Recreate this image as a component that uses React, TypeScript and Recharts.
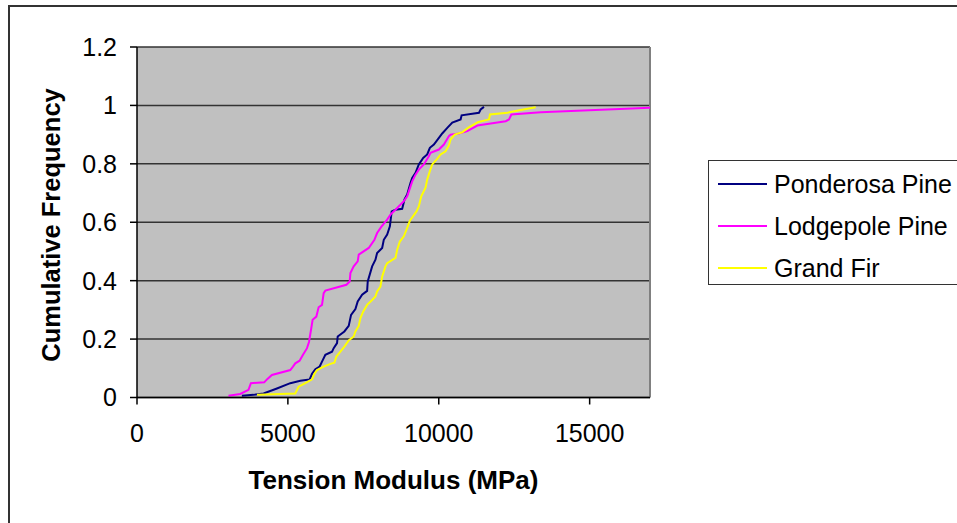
import { LineChart, Line, XAxis, YAxis, CartesianGrid, ReferenceLine, Label } from "recharts";

type Pt = [number, number];

// [tension modulus (MPa), cumulative frequency]
const ponderosa: Pt[] = [
  [3475, 0.006], [3862, 0.009], [4194, 0.014], [4637, 0.031], [5080, 0.049], [5412, 0.057],
  [5722, 0.062], [5800, 0.081], [5910, 0.097], [6053, 0.106], [6131, 0.123], [6242, 0.146],
  [6463, 0.157], [6518, 0.169], [6629, 0.186], [6651, 0.209], [6872, 0.226], [7016, 0.245],
  [7094, 0.283], [7238, 0.303], [7314, 0.329], [7460, 0.352], [7626, 0.365], [7646, 0.397],
  [7792, 0.449], [7902, 0.472], [7957, 0.495], [8124, 0.512], [8178, 0.54], [8290, 0.558],
  [8380, 0.586], [8440, 0.637], [8566, 0.643], [8788, 0.646], [8864, 0.678], [8953, 0.695],
  [9064, 0.735], [9120, 0.752], [9230, 0.769], [9339, 0.798], [9484, 0.82], [9617, 0.832],
  [9705, 0.855], [9838, 0.866], [10004, 0.889], [10115, 0.904], [10282, 0.923], [10448, 0.941],
  [10724, 0.952], [10757, 0.966], [11333, 0.975], [11388, 0.986], [11498, 0.995],
];

const lodgepole: Pt[] = [
  [3031, 0.006], [3420, 0.012], [3695, 0.026], [3774, 0.049], [4216, 0.052], [4305, 0.062],
  [4471, 0.077], [5080, 0.094], [5169, 0.106], [5246, 0.117], [5388, 0.126], [5501, 0.146],
  [5634, 0.169], [5700, 0.19], [5767, 0.232], [5820, 0.266], [5943, 0.277], [6019, 0.309],
  [6131, 0.317], [6186, 0.357], [6242, 0.366], [6939, 0.386], [7048, 0.397], [7072, 0.426],
  [7181, 0.449], [7314, 0.466], [7348, 0.489], [7680, 0.512], [7868, 0.54], [7957, 0.563],
  [8100, 0.585], [8290, 0.609], [8400, 0.626], [8566, 0.643], [8842, 0.672], [8953, 0.689],
  [9064, 0.723], [9120, 0.74], [9230, 0.763], [9339, 0.78], [9505, 0.798], [9671, 0.826],
  [9728, 0.838], [10004, 0.849], [10170, 0.866], [10335, 0.895], [10392, 0.9], [10667, 0.904],
  [10946, 0.912], [11278, 0.931], [11720, 0.938], [12218, 0.946], [12328, 0.952], [12406, 0.969],
  [13380, 0.977], [17000, 0.992],
];

const grandFir: Pt[] = [
  [3975, 0.009], [5246, 0.014], [5356, 0.037], [5578, 0.049], [5800, 0.062], [5877, 0.081],
  [5966, 0.094], [6186, 0.106], [6410, 0.115], [6540, 0.119], [6607, 0.14], [6740, 0.157],
  [6872, 0.174], [7016, 0.195], [7181, 0.209], [7238, 0.226], [7348, 0.245], [7404, 0.272],
  [7493, 0.294], [7626, 0.317], [7792, 0.334], [7902, 0.346], [7957, 0.363], [8068, 0.38],
  [8124, 0.414], [8234, 0.449], [8290, 0.46], [8566, 0.478], [8622, 0.506], [8710, 0.534],
  [8842, 0.552], [8931, 0.575], [9042, 0.605], [9263, 0.637], [9339, 0.654], [9419, 0.689],
  [9562, 0.718], [9617, 0.746], [9705, 0.775], [9783, 0.798], [9949, 0.817], [10060, 0.832],
  [10226, 0.843], [10335, 0.863], [10392, 0.883], [10524, 0.9], [10780, 0.908], [10967, 0.923],
  [11298, 0.943], [11663, 0.952], [11697, 0.969], [12275, 0.975], [12716, 0.984], [13214, 0.994],
];

const xTicks = [0, 5000, 10000, 15000];
const yTicks = [0, 0.2, 0.4, 0.6, 0.8, 1, 1.2];

const series = [
  { name: "Ponderosa Pine", color: "#000080", points: ponderosa },
  { name: "Lodgepole Pine", color: "#FF00FF", points: lodgepole },
  { name: "Grand Fir", color: "#FFFF00", points: grandFir },
];

const font = "Arial, 'Liberation Sans', sans-serif";
const tickStyle = { fontSize: 25, fill: "#000", fontFamily: font };

const toRows = (pts: Pt[]) => pts.map(([mpa, freq]) => ({ mpa, freq }));

function Legend() {
  return (
    <div
      style={{
        position: "absolute",
        left: 708,
        top: 160,
        width: 300,
        height: 125,
        border: "1.5px solid #333",
        boxSizing: "border-box",
        background: "#fff",
      }}
    >
      {series.map((s, i) => (
        <div
          key={s.name}
          style={{
            position: "absolute",
            left: 9,
            top: 23 + i * 42 - 15,
            height: 30,
            display: "flex",
            alignItems: "center",
            whiteSpace: "nowrap",
          }}
        >
          <div style={{ width: 49, height: 2, background: s.color, marginRight: 7 }} />
          <span style={{ fontSize: 25, fontFamily: font, color: "#000" }}>{s.name}</span>
        </div>
      ))}
    </div>
  );
}

export default function App() {
  return (
    <div
      style={{
        position: "absolute",
        left: 0,
        top: 0,
        width: 957,
        height: 523,
        overflow: "hidden",
        background: "#fff",
      }}
    >
      {/* chart area frame, right and bottom edges fall outside */}
      <div
        style={{
          position: "absolute",
          left: 8,
          top: 5,
          width: 1100,
          height: 700,
          border: "2px solid #333",
          boxSizing: "border-box",
        }}
      />
      <div style={{ position: "absolute", left: 0, top: 0 }}>
        <LineChart width={957} height={523} margin={{ top: 47, right: 307, bottom: 65.5, left: 67 }}>
          <CartesianGrid vertical={false} fill="#C0C0C0" stroke="#333" strokeWidth={1.5} fillOpacity={1} />
          <XAxis
            dataKey="mpa"
            type="number"
            domain={[0, 17000]}
            ticks={xTicks}
            allowDataOverflow
            height={60}
            tickSize={7}
            tickMargin={20}
            tick={tickStyle}
            axisLine={{ stroke: "#000", strokeWidth: 1.5 }}
            tickLine={{ stroke: "#000", strokeWidth: 1.5 }}
          >
            <Label
              value="Tension Modulus (MPa)"
              content={() => (
                <text x={393.5} y={489} textAnchor="middle" fontFamily={font} fontWeight="bold" fontSize={26} fill="#000">
                  Tension Modulus (MPa)
                </text>
              )}
            />
          </XAxis>
          <YAxis
            type="number"
            domain={[0, 1.2]}
            ticks={yTicks}
            width={70}
            tickSize={7}
            tickMargin={13}
            tick={tickStyle}
            axisLine={{ stroke: "#000", strokeWidth: 1.5 }}
            tickLine={{ stroke: "#000", strokeWidth: 1.5 }}
          >
            <Label
              value="Cumulative Frequency"
              content={() => (
                <text
                  x={60}
                  y={225}
                  transform="rotate(-90 60 225)"
                  textAnchor="middle"
                  fontFamily={font}
                  fontWeight="bold"
                  fontSize={25.5}
                  fill="#000"
                >
                  Cumulative Frequency
                </text>
              )}
            />
          </YAxis>
          <ReferenceLine x={17000} stroke="#808080" strokeWidth={2} />
          {series.map((s) => (
            <Line
              key={s.name}
              data={toRows(s.points)}
              dataKey="freq"
              name={s.name}
              type="linear"
              stroke={s.color}
              strokeWidth={2}
              dot={false}
              activeDot={false}
              isAnimationActive={false}
            />
          ))}
        </LineChart>
      </div>
      <Legend />
    </div>
  );
}
